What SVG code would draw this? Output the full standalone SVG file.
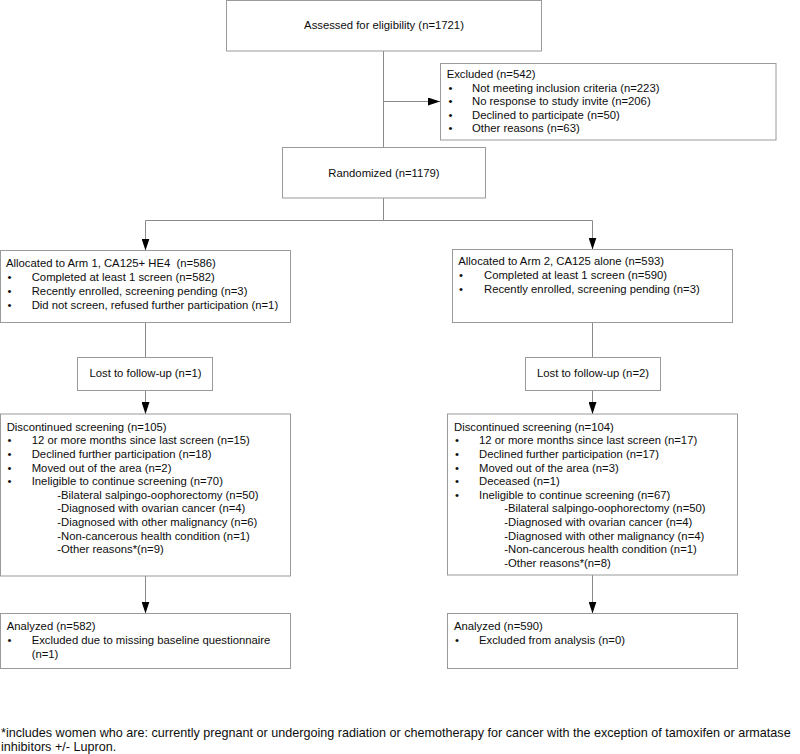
<svg xmlns="http://www.w3.org/2000/svg" width="800" height="754" viewBox="0 0 800 754">
<style>
.box{fill:#fff;stroke:#9a9a9a;stroke-width:1}
.ln{fill:none;stroke:#8a8a8a;stroke-width:1}
text{font-family:"Liberation Sans",Arial,sans-serif;font-size:11.3px;fill:#0d0d0d}
.c{text-anchor:middle}
.fn{font-size:12.6px}
</style>
<defs>
<marker id="ah" markerUnits="userSpaceOnUse" markerWidth="12" markerHeight="8" refX="12" refY="4" orient="auto">
<path d="M0,0 L12,4 L0,8 z" fill="#000"/>
</marker>
</defs>
<rect width="800" height="754" fill="#fff"/>
<g id="connectors">
<path class="ln" d="M383.5 51 V147"/>
<path class="ln" d="M383.5 101.5 H440" marker-end="url(#ah)"/>
<path class="ln" d="M383.5 198 V220.5 H145.5 V250.5" marker-end="url(#ah)"/>
<path class="ln" d="M383.5 220.5 H592.5 V249.5" marker-end="url(#ah)"/>
<path class="ln" d="M145.5 322.5 V357.5"/>
<path class="ln" d="M592.5 322.5 V357.5"/>
<path class="ln" d="M145.5 390.5 V414" marker-end="url(#ah)"/>
<path class="ln" d="M592.5 390.5 V414" marker-end="url(#ah)"/>
<path class="ln" d="M145.5 576 V613.5" marker-end="url(#ah)"/>
<path class="ln" d="M592.5 575 V613.5" marker-end="url(#ah)"/>
</g>
<g id="assessed">
<rect class="box" x="226.5" y="0.5" width="315" height="50.5"/>
<text class="c" x="384" y="29">Assessed for eligibility (n=1721)</text>
</g>
<g id="excluded">
<rect class="box" x="440.5" y="63.5" width="335.5" height="76.5"/>
<text x="446.7" y="77.5">Excluded (n=542)</text>
<text x="448.5" y="91.6">•</text><text x="472" y="91.6">Not meeting inclusion criteria (n=223)</text>
<text x="448.5" y="105.2">•</text><text x="472" y="105.2">No response to study invite (n=206)</text>
<text x="448.5" y="118.8">•</text><text x="472" y="118.8">Declined to participate (n=50)</text>
<text x="448.5" y="132.4">•</text><text x="472" y="132.4">Other reasons (n=63)</text>
</g>
<g id="randomized">
<rect class="box" x="282.5" y="147.5" width="203" height="50.5"/>
<text class="c" x="384" y="176.7">Randomized (n=1179)</text>
</g>
<g id="arm1">
<rect class="box" x="0.5" y="250.5" width="290" height="72"/>
<text x="6" y="267" xml:space="preserve">Allocated to Arm 1, CA125+ HE4  (n=586)</text>
<text x="7.5" y="281">•</text><text x="31.7" y="281">Completed at least 1 screen (n=582)</text>
<text x="7.5" y="295">•</text><text x="31.7" y="295">Recently enrolled, screening pending (n=3)</text>
<text x="7.5" y="309">•</text><text x="31.7" y="309">Did not screen, refused further participation (n=1)</text>
</g>
<g id="arm2">
<rect class="box" x="452.5" y="249.5" width="280" height="73"/>
<text x="458.3" y="265">Allocated to Arm 2, CA125 alone (n=593)</text>
<text x="459" y="279">•</text><text x="484" y="279">Completed at least 1 screen (n=590)</text>
<text x="459" y="293">•</text><text x="484" y="293">Recently enrolled, screening pending (n=3)</text>
</g>
<g id="lost1">
<rect class="box" x="77.5" y="357.5" width="135" height="33"/>
<text class="c" x="145.5" y="377">Lost to follow-up (n=1)</text>
</g>
<g id="lost2">
<rect class="box" x="525.5" y="357.5" width="135" height="33"/>
<text class="c" x="593" y="377">Lost to follow-up (n=2)</text>
</g>
<g id="disc1">
<rect class="box" x="0.5" y="414" width="290" height="162"/>
<text x="6.7" y="430.7">Discontinued screening (n=105)</text>
<text x="7.5" y="444.3">•</text><text x="31.7" y="444.3">12 or more months since last screen (n=15)</text>
<text x="7.5" y="457.9">•</text><text x="31.7" y="457.9">Declined further participation (n=18)</text>
<text x="7.5" y="471.5">•</text><text x="31.7" y="471.5">Moved out of the area (n=2)</text>
<text x="7.5" y="485.1">•</text><text x="31.7" y="485.1">Ineligible to continue screening (n=70)</text>
<text x="57.3" y="498.7">-Bilateral salpingo-oophorectomy (n=50)</text>
<text x="57.3" y="512.3">-Diagnosed with ovarian cancer (n=4)</text>
<text x="57.3" y="525.9">-Diagnosed with other malignancy (n=6)</text>
<text x="57.3" y="539.5">-Non-cancerous health condition (n=1)</text>
<text x="57.3" y="553.1">-Other reasons*(n=9)</text>
</g>
<g id="disc2">
<rect class="box" x="447.5" y="414" width="290" height="161"/>
<text x="454" y="430.7">Discontinued screening (n=104)</text>
<text x="455" y="444.3">•</text><text x="479" y="444.3">12 or more months since last screen (n=17)</text>
<text x="455" y="457.9">•</text><text x="479" y="457.9">Declined further participation (n=17)</text>
<text x="455" y="471.5">•</text><text x="479" y="471.5">Moved out of the area (n=3)</text>
<text x="455" y="485.1">•</text><text x="479" y="485.1">Deceased (n=1)</text>
<text x="455" y="498.7">•</text><text x="479" y="498.7">Ineligible to continue screening (n=67)</text>
<text x="504.3" y="512.3">-Bilateral salpingo-oophorectomy (n=50)</text>
<text x="504.3" y="525.9">-Diagnosed with ovarian cancer (n=4)</text>
<text x="504.3" y="539.5">-Diagnosed with other malignancy (n=4)</text>
<text x="504.3" y="553.1">-Non-cancerous health condition (n=1)</text>
<text x="504.3" y="566.7">-Other reasons*(n=8)</text>
</g>
<g id="analyzed1">
<rect class="box" x="0.5" y="613.5" width="290" height="55"/>
<text x="6.7" y="630">Analyzed (n=582)</text>
<text x="7.5" y="644">•</text><text x="31.7" y="644">Excluded due to missing baseline questionnaire</text>
<text x="31.7" y="657.5">(n=1)</text>
</g>
<g id="analyzed2">
<rect class="box" x="447.5" y="613.5" width="290" height="55"/>
<text x="454" y="630">Analyzed (n=590)</text>
<text x="455" y="644">•</text><text x="479" y="644">Excluded from analysis (n=0)</text>
</g>
<g id="footnote">
<text class="fn" x="1" y="736.5">*includes women who are: currently pregnant or undergoing radiation or chemotherapy for cancer with the exception of tamoxifen or armatase</text>
<text class="fn" x="1" y="751">inhibitors +/- Lupron.</text>
</g>
</svg>
